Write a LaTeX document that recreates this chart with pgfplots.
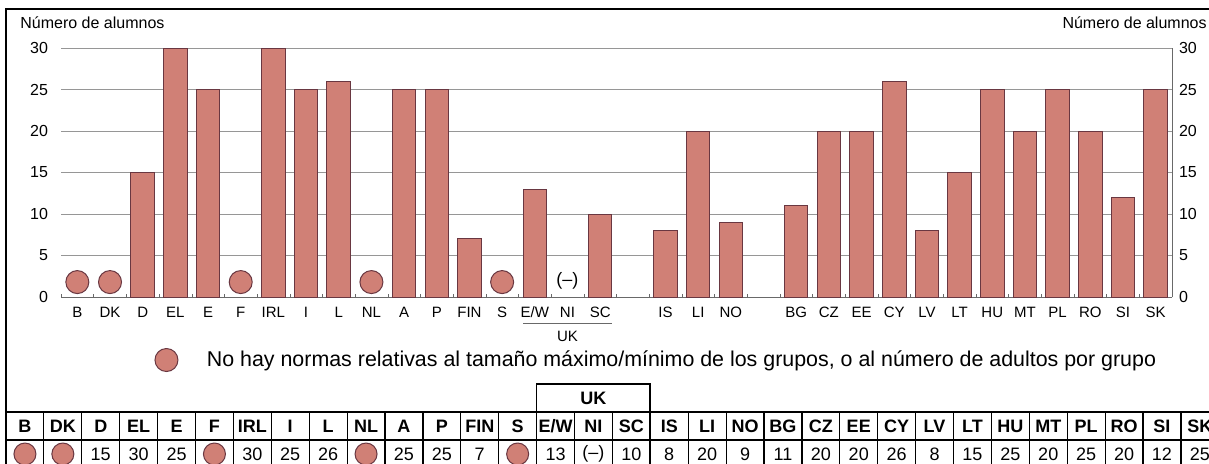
\documentclass[border=0pt]{standalone}
\usepackage{pgfplots}
\pgfplotsset{compat=1.18}
\usepackage{fontspec}
\setmainfont{Liberation Sans}
\definecolor{barfill}{RGB}{208,128,118}
\definecolor{baredge}{RGB}{105,55,65}
\definecolor{gridc}{RGB}{150,150,150}
\pgfplotsset{circlegend/.style={legend image code/.code={\path (-6pt,0pt) (18pt,0pt); \draw[##1] plot coordinates {(0pt,0pt)};}}}
\begin{document}
\begin{tikzpicture}
\useasboundingbox (0,0) rectangle (604.5pt,-231.5pt);
\clip (0,0) rectangle (604.5pt,-231.5pt);
\fill[white] (0,0) rectangle (604.5pt,-231.5pt);
\draw[black, line width=0.6pt] (3pt,-231.5pt) -- (3pt,-4.5pt) -- (604.5pt,-4.5pt);

% main chart
\begin{axis}[
  at={(30.5pt,-148.5pt)}, anchor=south west,
  scale only axis, width=555.5pt, height=124.5pt,
  xmin=-0.5, xmax=33.5, ymin=0, ymax=30,
  clip=false,
  axis x line*=bottom, axis y line*=left,
  y axis line style={draw=none},
  x axis line style={gridc!70!black, -},
  ytick={0,5,...,30},
  ymajorgrids, grid style={gridc, line width=0.4pt},
  ytick style={draw=none},
  xtick={0,1,2,3,4,5,6,7,8,9,10,11,12,13,14,15,16,18,19,20,22,23,24,25,26,27,28,29,30,31,32,33},
  xticklabels={B,DK,D,EL,E,F,IRL,I,L,NL,A,P,FIN,S,E/W,NI,SC,IS,LI,NO,BG,CZ,EE,CY,LV,LT,HU,MT,PL,RO,SI,SK},
  major x tick style={draw=none},
  minor xtick={-0.5,0.5,...,33.5},
  minor x tick style={gridc!70!black},
  minor tick length=1.5pt, tick align=inside,
  xticklabel style={font=\fontsize{7.5}{9}\selectfont, yshift=-1.5pt},
  yticklabel style={font=\fontsize{8}{9}\selectfont, xshift=-3pt},
  /pgf/number format/assume math mode=true,
  legend style={at={(0.078,-0.253)}, anchor=west, draw=none, fill=none,
    font=\fontsize{10.7}{12}\selectfont, legend cell align=left},
]
\addplot[ybar, bar width=0.72, fill=barfill, draw=baredge, line width=0.5pt, forget plot] coordinates {
  (2,15) (3,30) (4,25) (6,30) (7,25) (8,26) (10,25) (11,25) (12,7)
  (14,13) (16,10) (18,8) (19,20) (20,9)
  (22,11) (23,20) (24,20) (25,26) (26,8) (27,15) (28,25) (29,20)
  (30,25) (31,20) (32,12) (33,25)};
\addplot[only marks, mark=*, mark size=5.75pt, mark options={fill=barfill, draw=baredge, line width=0.5pt}, circlegend]
  coordinates {(0,1.8) (1,1.8) (5,1.8) (9,1.8) (13,1.8)};
\addlegendentry{No hay normas relativas al tamaño máximo/mínimo de los grupos, o al número de adultos por grupo}
\node[font=\fontsize{9}{10}\selectfont] at (axis cs:15,2) {(--)};
\draw[gridc!70!black, line width=0.5pt] (axis cs:13.65,-3.25) -- (axis cs:16.35,-3.25);
\node[font=\fontsize{7.5}{9}\selectfont] at (axis cs:15,-4.8) {UK};
\node[anchor=west, font=\fontsize{8}{9}\selectfont, inner sep=0pt] at (rel axis cs:-0.0369,1.10) {Número de alumnos};
\node[anchor=east, font=\fontsize{8}{9}\selectfont, inner sep=0pt] at (rel axis cs:1.0315,1.10) {Número de alumnos};
\end{axis}

% right tick labels
\begin{axis}[
  at={(30.5pt,-148.5pt)}, anchor=south west,
  scale only axis, width=555.5pt, height=124.5pt,
  xmin=-0.5, xmax=33.5, ymin=0, ymax=30,
  axis x line=none, axis y line*=right,
  y axis line style={gridc!70!black, -},
  ytick={0,5,...,30}, ytick style={draw=none},
  yticklabel style={font=\fontsize{8}{9}\selectfont},
  /pgf/number format/assume math mode=true,
]
\addplot[draw=none, mark=none] coordinates {(0,0)};
\end{axis}

% table
\begin{axis}[
  at={(3pt,-234pt)}, anchor=south west,
  scale only axis, width=625.35pt, height=28pt,
  xmin=-0.5, xmax=32.5, ymin=0, ymax=2,
  clip=false,
  xtick={-0.5,0.5,...,32.5}, ytick={0,1,2},
  xticklabels={}, yticklabels={},
  major tick length=0pt,
  grid=major, grid style={black, line width=0.6pt},
  axis line style={black, line width=0.6pt},
]
\addplot[draw=none, mark=none, nodes near coords, point meta=explicit symbolic,
  every node near coord/.append style={anchor=center, font=\bfseries\fontsize{9}{10}\selectfont, inner sep=0pt}]
  table[meta=n, row sep=\\] {
  x y n\\
  0 1.5 B\\ 1 1.5 DK\\ 2 1.5 D\\ 3 1.5 EL\\ 4 1.5 E\\ 5 1.5 F\\ 6 1.5 IRL\\ 7 1.5 I\\
  8 1.5 L\\ 9 1.5 NL\\ 10 1.5 A\\ 11 1.5 P\\ 12 1.5 FIN\\ 13 1.5 S\\ 14 1.5 E/W\\ 15 1.5 NI\\
  16 1.5 SC\\ 17 1.5 IS\\ 18 1.5 LI\\ 19 1.5 NO\\ 20 1.5 BG\\ 21 1.5 CZ\\ 22 1.5 EE\\ 23 1.5 CY\\
  24 1.5 LV\\ 25 1.5 LT\\ 26 1.5 HU\\ 27 1.5 MT\\ 28 1.5 PL\\ 29 1.5 RO\\ 30 1.5 SI\\ 31 1.5 SK\\
  };
\addplot[draw=none, mark=none, nodes near coords, point meta=explicit symbolic,
  every node near coord/.append style={anchor=center, font=\fontsize{9}{10}\selectfont, inner sep=0pt}]
  table[meta=v, row sep=\\] {
  x y v\\
  2 0.5 15\\ 3 0.5 30\\ 4 0.5 25\\ 6 0.5 30\\ 7 0.5 25\\ 8 0.5 26\\ 10 0.5 25\\ 11 0.5 25\\
  12 0.5 7\\ 14 0.5 13\\ 15 0.5 (--)\\ 16 0.5 10\\ 17 0.5 8\\ 18 0.5 20\\ 19 0.5 9\\ 20 0.5 11\\
  21 0.5 20\\ 22 0.5 20\\ 23 0.5 26\\ 24 0.5 8\\ 25 0.5 15\\ 26 0.5 25\\ 27 0.5 20\\ 28 0.5 25\\
  29 0.5 20\\ 30 0.5 12\\ 31 0.5 25\\
  };
\addplot[only marks, mark=*, mark size=5.5pt, mark options={fill=barfill, draw=baredge, line width=0.5pt}]
  coordinates {(0,0.5) (1,0.5) (5,0.5) (9,0.5) (13,0.5)};
\draw[black, line width=0.6pt] (axis cs:13.5,2) -- (axis cs:13.5,3) -- (axis cs:16.5,3) -- (axis cs:16.5,2);
\draw[black, line width=1.1pt] (axis cs:16.5,0) -- (axis cs:16.5,3);
\node[font=\bfseries\fontsize{9}{10}\selectfont] at (axis cs:15,2.5) {UK};
\end{axis}
\end{tikzpicture}
\end{document}
